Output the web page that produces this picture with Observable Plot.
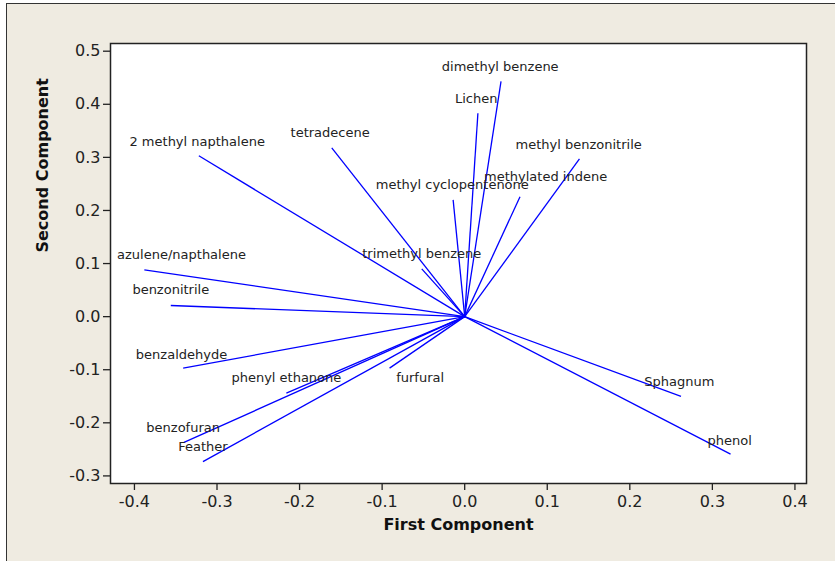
<!DOCTYPE html>
<html><head><meta charset="utf-8">
<script src="https://cdn.jsdelivr.net/npm/d3@7"></script>
<script src="https://cdn.jsdelivr.net/npm/@observablehq/plot@0.6"></script>
<style>
html,body{margin:0;padding:0;background:#fff;}
#wrap{position:relative;width:835px;height:561px;overflow:hidden;}
#bg{position:absolute;left:6px;top:3px;right:0;bottom:0;background:#efebe1;border-left:1px solid #333;border-top:1px solid #333;}
#chart{position:absolute;left:0;top:0;}
</style></head><body>
<div id="wrap"><div id="bg"></div><div id="chart"></div></div>
<script>
const variables = ["2 methyl napthalene","tetradecene","dimethyl benzene","Lichen","methyl benzonitrile","methylated indene","methyl cyclopentenone","trimethyl benzene","azulene/napthalene","benzonitrile","benzaldehyde","phenyl ethanone","furfural","benzofuran","Feather","Sphagnum","phenol"];
const pc1 = [-0.322,-0.161,0.044,0.016,0.139,0.067,-0.014,-0.052,-0.388,-0.356,-0.341,-0.216,-0.091,-0.340,-0.317,0.262,0.322];
const pc2 = [0.303,0.318,0.443,0.383,0.297,0.226,0.220,0.090,0.088,0.021,-0.097,-0.144,-0.097,-0.237,-0.273,-0.150,-0.259];
const labelX = [-0.324,-0.163,0.043,0.014,0.138,0.098,-0.015,-0.052,-0.343,-0.356,-0.343,-0.216,-0.054,-0.341,-0.317,0.260,0.321];
const labelY = [0.330,0.347,0.471,0.411,0.324,0.264,0.249,0.119,0.117,0.051,-0.072,-0.115,-0.115,-0.209,-0.246,-0.122,-0.234];
const xTicks = [-0.4,-0.3,-0.2,-0.1,0.0,0.1,0.2,0.3,0.4];
const yTicks = [-0.3,-0.2,-0.1,0.0,0.1,0.2,0.3,0.4,0.5];
const xTitle = "First Component";
const yTitle = "Second Component";

const data = variables.map((name,i)=>({name, x:pc1[i], y:pc2[i], lx:labelX[i], ly:labelY[i]}));
const fmt = d => d.toFixed(1);

const plot = Plot.plot({
  width:835, height:561,
  marginLeft:110, marginTop:43, marginRight:29, marginBottom:78,
  style:{background:"transparent", fontFamily:"DejaVu Sans", fontSize:"16px", color:"#222"},
  x:{domain:[-0.429,0.414], label:null},
  y:{domain:[-0.3143,0.5145], label:null},
  marks:[
    Plot.frame({fill:"white"}),
    Plot.link(data,{x1:0,y1:0,x2:"x",y2:"y",stroke:"#0000ff",strokeWidth:1.3}),
    Plot.text(data,{x:"lx",y:"ly",text:"name",fontSize:13,fill:"#222"}),
    Plot.frame({stroke:"#222",strokeWidth:1.5}),
    Plot.axisX({ticks:xTicks,tickFormat:fmt,tickSize:7,tickPadding:5,fontSize:16,label:null,stroke:"#222",strokeWidth:1.3}),
    Plot.axisY({ticks:yTicks,tickFormat:fmt,tickSize:7,tickPadding:3,fontSize:16,label:null,stroke:"#222",strokeWidth:1.3}),
    Plot.text([xTitle],{frameAnchor:"bottom",dy:46,fontWeight:"bold",fontSize:16,fill:"#111"}),
    Plot.text([yTitle],{frameAnchor:"left",dx:-68,dy:-11,rotate:-90,fontWeight:"bold",fontSize:16,fill:"#111"})
  ]
});
document.getElementById("chart").appendChild(plot);
</script>
</body></html>
